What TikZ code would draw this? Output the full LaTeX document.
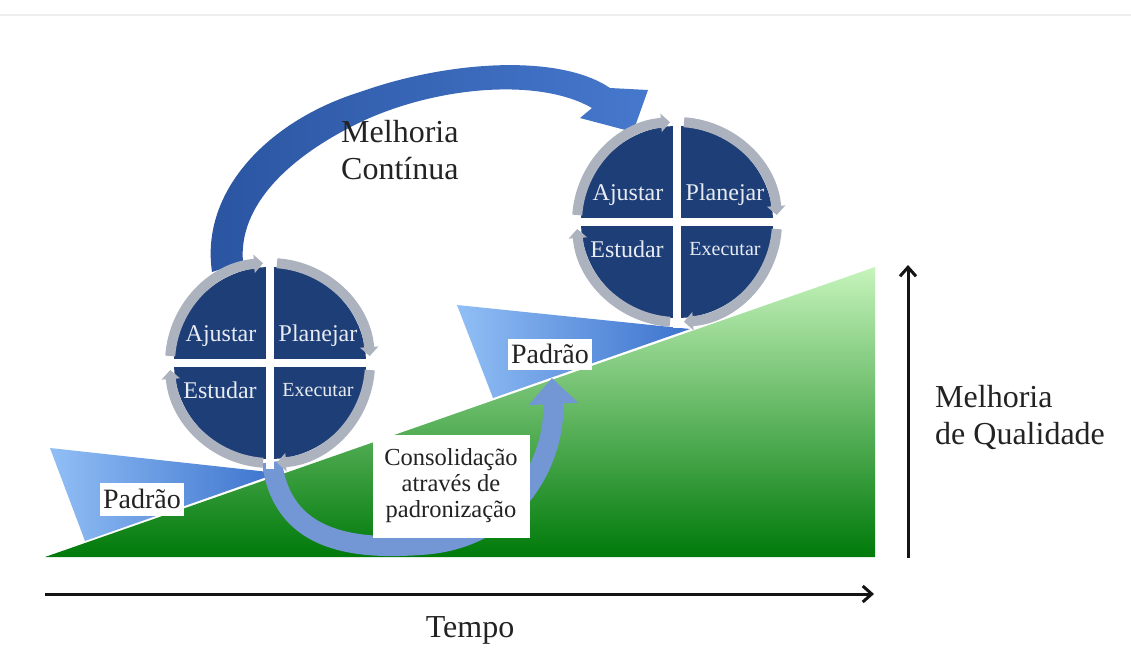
\documentclass[tikz,border=0pt]{standalone}
\usepackage{fontspec}
\setmainfont{Liberation Serif}
\usetikzlibrary{arrows.meta}
\definecolor{pdcablue}{RGB}{30,62,120}
\definecolor{ringgray}{RGB}{172,178,190}
\definecolor{qtext}{RGB}{232,236,242}
\definecolor{txt}{RGB}{35,35,35}
\definecolor{axiscol}{RGB}{20,20,20}
\definecolor{gtop}{RGB}{198,244,188}
\definecolor{gbot}{RGB}{0,122,10}
\definecolor{wedgeL}{RGB}{145,190,245}
\definecolor{wedgeR}{RGB}{60,115,205}
\definecolor{arrA}{RGB}{42,84,160}
\definecolor{arrB}{RGB}{70,120,205}
\definecolor{consol}{RGB}{115,150,212}
\definecolor{framegray}{RGB}{238,238,238}
\tikzset{
  lbl/.style={text=txt, font=\fontsize{32}{37}\selectfont, inner sep=0pt, align=left},
  qlabel/.style={text=qtext, font=\fontsize{24}{24}\selectfont, inner sep=0pt},
  qsmall/.style={text=qtext, font=\fontsize{20}{20}\selectfont, inner sep=0pt},
  whitebox/.style={fill=white, text=txt, inner sep=0pt},
  ringarc/.style={ringgray, line width=10pt, -{Triangle[width=18pt,length=9pt]}},
  axisarrow/.style={draw=axiscol, line width=3pt, -{Straight Barb[length=9pt,width=16pt,line width=3pt]}},
  pics/pdca/.style={code={
    \begin{scope}[yscale=-1]
      \fill[pdcablue] (0,0) circle (96);
      \foreach \a/\b in {176/94,86/4,-4/-86,-94/-176}
        \draw[ringarc] (\a:100) arc[start angle=\a, end angle=\b, radius=100];
      \fill[white] (-4,-106) rectangle (4,106);
      \fill[white] (-106,-4) rectangle (106,4);
      \node[qlabel] (-aj) at (-49,27) {Ajustar};
      \node[qlabel] (-pl) at (48,27) {Planejar};
      \node[qlabel] (-es) at (-50,-27) {Estudar};
      \node[qsmall] (-ex) at (48,-27) {Executar};
    \end{scope}
  }}
}
\begin{document}
\begin{tikzpicture}[x=1pt,y=-1pt]
\useasboundingbox (0,0) rectangle (1131,654);
\fill[white] (0,0) rectangle (1131,654);
\draw[framegray, line width=2pt] (0,15) -- (1131,15);

% green quality ramp
\shade[top color=gtop, bottom color=gbot] (45,557) -- (875,267) -- (875,557) -- cycle;

% standard wedges
\shade[left color=wedgeL, right color=wedgeR] (50,448) -- (85,541) -- (278,473) -- cycle;
\shade[left color=wedgeL, right color=wedgeR] (457,305) -- (493,398) -- (690,329) -- cycle;

% consolidation arrow
\coordinate (cs) at (272,462);
\coordinate (ce) at (552,378);
\draw[consol, line width=20pt, -{Triangle[width=48pt,length=26pt]}]
  (cs) .. controls (282,540) and (350,550) .. (420,545)
       .. controls (515,540) and (556,460) .. (ce);

% continuous improvement arrow
\shade[left color=arrA, right color=arrB]
  (212,272) .. controls (200,190) and (270,120) .. (360,92)
            .. controls (450,60) and (560,54) .. (610,88)
  -- (648,90) -- (633,132) -- (580,118) -- (592,108)
            .. controls (540,78) and (440,86) .. (365,120)
            .. controls (290,155) and (238,205) .. (243,262) -- cycle;

% PDCA circles
\pic (c1) at (270,363) {pdca};
\pic (c2) at (677,222) {pdca};

% boxes
\node[whitebox, font=\fontsize{28}{28}\selectfont, minimum width=84pt, minimum height=33pt] (p1) at (142,499) {Padrão};
\node[whitebox, font=\fontsize{28}{28}\selectfont, minimum width=84pt, minimum height=31pt] (p2) at (550,354) {Padrão};
\node[whitebox, font=\fontsize{24.5}{26}\selectfont, align=center, minimum width=157pt, minimum height=103pt] (cons) at (451,486) {Consolidação\\através de\\padronização};

% labels
\node[lbl, anchor=west] (mc) at (341,150) {Melhoria\\Contínua};
\node[lbl, anchor=west] (mq) at (935,417) {Melhoria\\de Qualidade};
\node[lbl] (tempo) at (470,630) {Tempo};

% axes
\coordinate (t0) at (45,594);
\coordinate (t1) at (874,594);
\draw[axisarrow] (t0) -- (t1);
\coordinate (q0) at (908,558);
\coordinate (q1) at (908,265);
\draw[axisarrow] (q0) -- (q1);
\end{tikzpicture}
\end{document}
